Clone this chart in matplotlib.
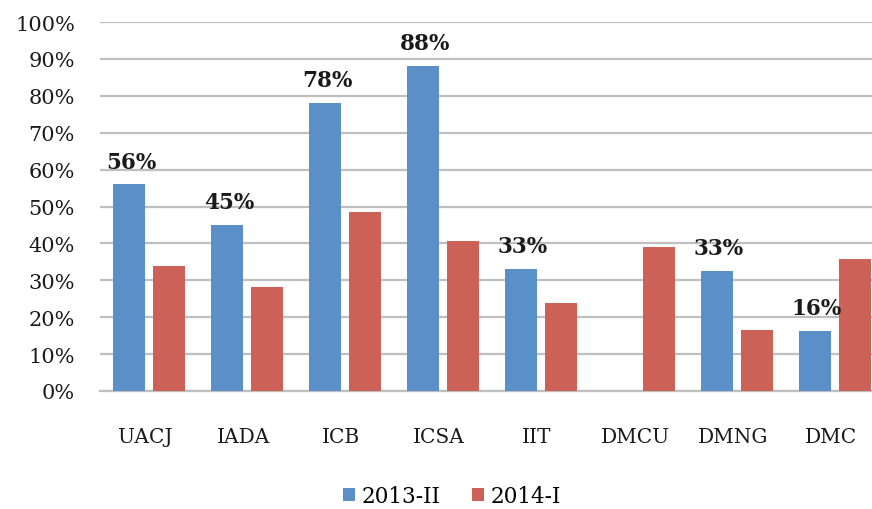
import matplotlib
matplotlib.use("Agg")
import matplotlib.pyplot as plt
import numpy as np
from matplotlib.ticker import FuncFormatter

categories = ["UACJ", "IADA", "ICB", "ICSA", "IIT", "DMCU", "DMNG", "DMC"]
s2013 = [56, 45, 78, 88, 33, None, 32.5, 16.3]
s2014 = [34, 28.2, 48.5, 40.6, 23.8, 39, 16.5, 35.8]
labels2013 = ["56%", "45%", "78%", "88%", "33%", "", "33%", "16%"]
series_names = ["2013-II", "2014-I"]

plt.rcParams['font.family'] = ['DejaVu Serif']
fig = plt.figure(figsize=(8.72, 5.10), dpi=100)
W, H = 872, 510
# axes spans x 100..884 px (cropped on right), y 23..392 px
ax = fig.add_axes([100 / W, (H - 392) / H, 784 / W, (392 - 23) / H])

x = np.arange(len(categories))
bw = 0.327
off = 0.204
blue = "#5B8FC8"
red = "#CC6157"
bv = [v if v is not None else 0 for v in s2013]
b1 = ax.bar(x - off, bv, bw, color=blue, label=series_names[0], zorder=3)
for i, v in enumerate(s2013):
    if v is None:
        b1[i].set_visible(False)
b2 = ax.bar(x + off, s2014, bw, color=red, label=series_names[1], zorder=3)

for i, v in enumerate(s2013):
    if v is not None and labels2013[i]:
        ax.text(x[i] - off + 0.02, v + 3.2, labels2013[i], ha="center", va="bottom",
                fontsize=15.5, fontweight="bold", color="#1a1a1a", zorder=4)

ax.set_xlim(-0.5, len(categories) - 0.5)
ax.set_ylim(0, 100)
ax.set_yticks(np.arange(0, 101, 10))
ax.yaxis.set_major_formatter(FuncFormatter(lambda v, p: f"{int(v)}%"))
ax.grid(axis="y", color="#BFBFBF", linewidth=1.6, zorder=0)
for s in ["top", "right", "left"]:
    ax.spines[s].set_visible(False)
ax.spines["bottom"].set_color("#BFBFBF")
ax.spines["bottom"].set_linewidth(1.6)
ax.tick_params(axis="y", length=0, pad=18, labelsize=15, labelcolor="#1a1a1a")
ax.tick_params(axis="x", length=0, pad=26, labelsize=14.5, labelcolor="#1a1a1a")
ax.set_xticks(x - 0.04)
ax.set_xticklabels(categories)

leg = fig.legend(loc="center", bbox_to_anchor=(452 / W, 1 - 497 / H), ncol=2,
                 frameon=False, fontsize=15.5, handlelength=0.55, handleheight=0.55,
                 handletextpad=0.3, columnspacing=1.5)
fig.savefig("out.png", dpi=100)
